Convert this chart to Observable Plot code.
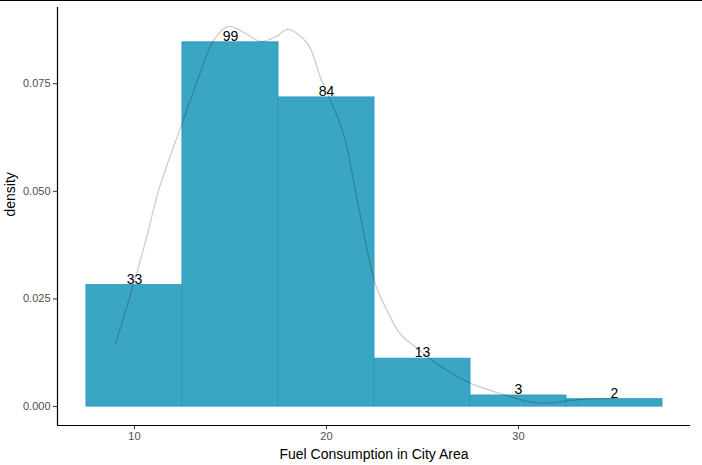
<!DOCTYPE html>
<html><head><meta charset="utf-8">
<script src="https://cdn.jsdelivr.net/npm/d3@7"></script>
<script src="https://cdn.jsdelivr.net/npm/@observablehq/plot@0.6"></script>
<style>
body{margin:0;background:#fff;}
#frame{border-top:1px solid #000;width:702px;}
svg{display:block;font-family:"Liberation Sans",Arial,sans-serif;}
</style></head>
<body><div id="frame"></div>
<script>
// histogram bins (binwidth 5)
const binCenters = [10, 15, 20, 25, 30, 35];
const binCounts = [33, 99, 84, 13, 3, 2];
const binDensity = [0.0282, 0.0846, 0.0718, 0.0111, 0.00256, 0.0017];
// density curve
const densX = [9.01, 9.95, 10.68, 11.2, 11.72, 12.4, 13.28, 14.11, 14.9, 15.78, 16.56, 17.4, 17.97, 19.01, 19.69, 20.21, 20.89, 21.61, 22.55, 23.18, 23.85, 24.74, 25.57, 26.61, 27.5, 28.39, 29.43, 30.47, 31.3, 32.19, 32.86, 33.75, 34.95];
const densY = [0.0145, 0.0284, 0.0401, 0.0494, 0.0564, 0.0648, 0.0757, 0.0850, 0.0883, 0.0867, 0.0848, 0.0860, 0.0876, 0.0843, 0.0764, 0.0711, 0.0634, 0.0478, 0.0284, 0.0221, 0.0168, 0.0135, 0.0105, 0.0075, 0.0054, 0.0040, 0.0025, 0.0012, 0.0008, 0.0011, 0.0015, 0.0018, 0.0019];
const xTicks = [10, 20, 30];
const yTicks = [0, 0.025, 0.05, 0.075];

const bins = binCenters.map((c, i) => ({x1: c - 2.5, x2: c + 2.5, xc: c, n: binCounts[i], d: binDensity[i]}));
const dens = densX.map((x, i) => ({x, y: densY[i]}));
const xDom = [5.99, 38.96], yDom = [-0.0044, 0.0927];

const chart = Plot.plot({
  width: 702, height: 464,
  marginLeft: 57, marginRight: 12, marginTop: 6, marginBottom: 40,
  style: {fontFamily: '"Liberation Sans", Arial, sans-serif', background: "#fff"},
  x: {domain: xDom},
  y: {domain: yDom},
  marks: [
    Plot.rectY(bins, {x1: "x1", x2: "x2", y1: 0, y2: "d", fill: "#3ba6c4", stroke: "#2c9ac2", strokeWidth: 1}),
    Plot.line(dens, {x: "x", y: "y", curve: "catmull-rom", stroke: "#000", strokeOpacity: 0.2, strokeWidth: 1.3}),
    Plot.text(bins, {x: "xc", y: "d", text: d => String(d.n), dy: -6, fontSize: 14, fill: "#000"}),
    Plot.axisX({ticks: xTicks, tickSize: 4, tickPadding: 3, fontSize: 11, color: "#4d4d4d", stroke: "#333", label: null}),
    Plot.axisY({ticks: yTicks, tickSize: 4, tickPadding: 3, fontSize: 11, color: "#4d4d4d", stroke: "#333", tickFormat: d3.format(".3f"), label: null}),
    Plot.ruleX([xDom[0]], {stroke: "#000", strokeWidth: 1.2}),
    Plot.ruleY([yDom[0]], {stroke: "#000", strokeWidth: 1.2}),
    Plot.text(["Fuel Consumption in City Area"], {frameAnchor: "bottom", dy: 33, fontSize: 14, fill: "#000"}),
    Plot.text(["density"], {frameAnchor: "left", dx: -47, rotate: -90, fontSize: 14, fill: "#000"})
  ]
});
document.getElementById("frame").appendChild(chart);
</script></body></html>
